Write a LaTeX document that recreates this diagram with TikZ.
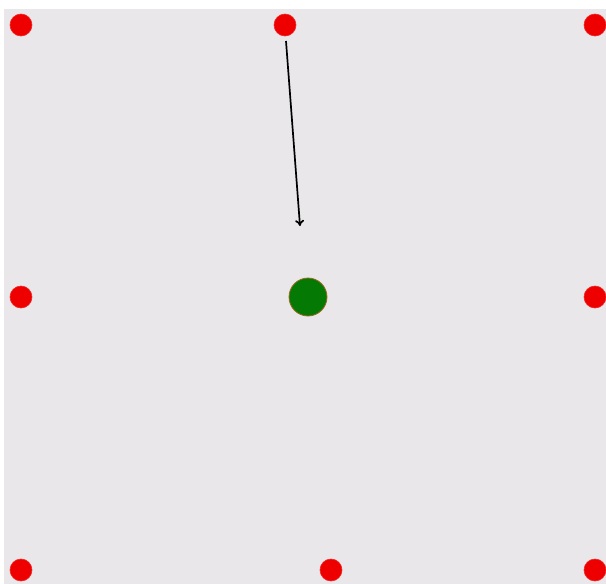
\documentclass[tikz,border=0pt]{standalone}
\usetikzlibrary{arrows.meta}
\definecolor{bg}{HTML}{E9E7EA}
\definecolor{dotred}{HTML}{EE0000}
\definecolor{dotgreen}{HTML}{047A04}
\definecolor{greenedge}{HTML}{9A6A1E}
\begin{document}
\begin{tikzpicture}[x=1pt,y=-1pt,
  reddot/.style={circle,fill=dotred,draw=dotred!85!white,line width=0.6pt,minimum size=22pt,inner sep=0pt},
  greendot/.style={circle,fill=dotgreen,draw=greenedge,line width=0.8pt,minimum size=38pt,inner sep=0pt},
  move/.style={-{To[length=6pt,width=9pt]},line width=1.7pt,black}]
\useasboundingbox (0,0) rectangle (606,584);
\fill[white] (0,0) rectangle (606,584);
\fill[bg] (4,9) rectangle (606,584);
\node[reddot] (d1) at (21,25) {};
\node[reddot] (d2) at (285,25) {};
\node[reddot] (d3) at (595,25) {};
\node[reddot] (d4) at (21,297) {};
\node[reddot] (d5) at (595,297) {};
\node[reddot] (d6) at (21,570) {};
\node[reddot] (d7) at (331,570) {};
\node[reddot] (d8) at (595,570) {};
\node[greendot] (g) at (308,297) {};
\coordinate (a1) at (286,41);
\coordinate (a2) at (300,226);
\draw[move] (a1) -- (a2);
\end{tikzpicture}
\end{document}
